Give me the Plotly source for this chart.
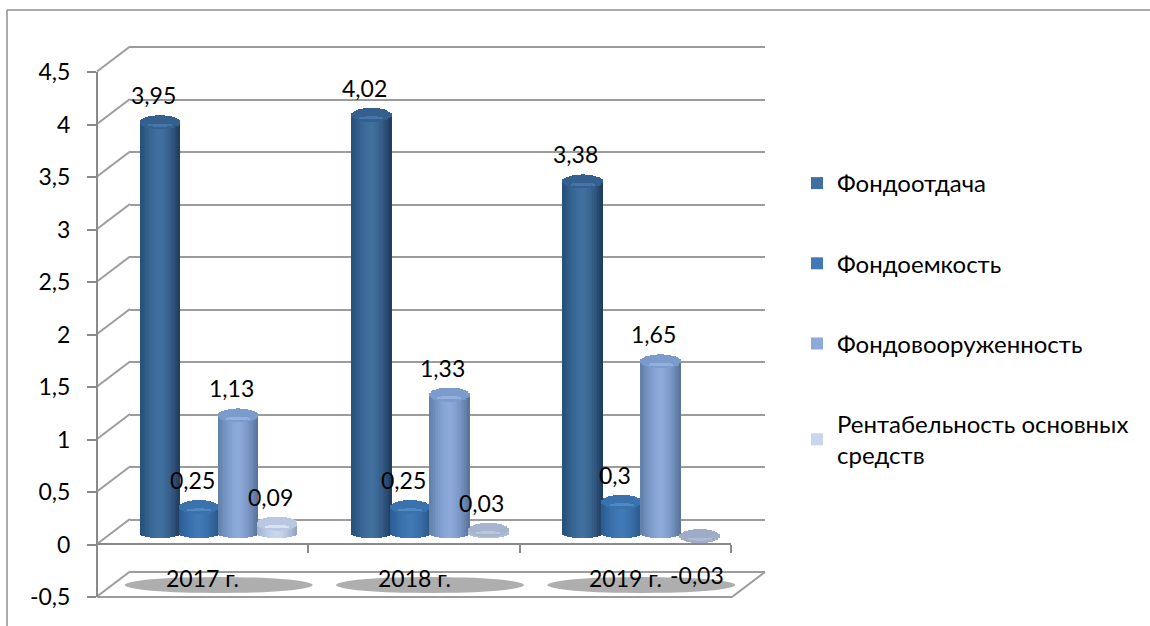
import numpy as np
import plotly.graph_objects as go

categories = ["2017 г.", "2018 г.", "2019 г."]
series_names = ["Фондоотдача", "Фондоемкость", "Фондовооруженность", "Рентабельность основных<br>средств"]
fondootdacha = [3.95, 4.02, 3.38]
fondoemkost = [0.25, 0.25, 0.30]
fondovooruzh = [1.13, 1.33, 1.65]
rentabelnost = [0.09, 0.03, -0.03]
y_ticks = [-0.5, 0, 0.5, 1, 1.5, 2, 2.5, 3, 3.5, 4, 4.5]
y_tick_labels = ["-0,5", "0", "0,5", "1", "1,5", "2", "2,5", "3", "3,5", "4", "4,5"]

W, H = 1150, 626
FONT = "Lato, Carlito, 'Open Sans', sans-serif"
GRID = "#9c9c9c"
AXIS = "#8a8a8a"
px = lambda x: x / W
py = lambda y: 1 - y / H

# colours: edge-left, centre, edge-right, top face, highlight
styles = [
    ("#264f7a", "#41709f", "#1e3a5c", "#34608f", "#4675a8"),
    ("#2b5c94", "#4079b6", "#2a5688", "#3a72ad", "#5088c2"),
    ("#5f7ea8", "#8daadb", "#56719a", "#7b9bcc", "#94b0dc"),
    ("#9fb2d2", "#c9d6ee", "#8fa3c4", "#b9c8e0", "#d8e2f2"),
]
all_values = [fondootdacha, fondoemkost, fondovooruzh, rentabelnost]
# the thin discs of the last series look greyer the closer they sit to zero
disc_grey = [[0, 0, 0], [0, 0, 0], [0, 0, 0], [0, 0.7, 1.0]]

BAR_PX = 39.0
CAT_PX = 634 / 3
W_CAT = BAR_PX / CAT_PX
DIAM = 40.0 / CAT_PX
RY = 7 / 104
N = 24


def hex2rgb(h):
    return np.array([int(h[i:i + 2], 16) for i in (1, 3, 5)], float)


def mix(c1, c2, f):
    c = hex2rgb(c1) * (1 - f) + hex2rgb(c2) * f
    return "rgb(%d,%d,%d)" % tuple(c.round())


fig = go.Figure()
# empty traces that bring the wall and the front-axis subplots to life
fig.add_trace(go.Scatter(x=[None], y=[None], xaxis="x", yaxis="y", showlegend=False, hoverinfo="skip"))
fig.add_trace(go.Scatter(x=[None], y=[None], xaxis="x2", yaxis="y2", showlegend=False, hoverinfo="skip"))

annotations = []
for s, vals in enumerate(all_values):
    left, mid, right, top, hi = styles[s]
    t = (np.arange(N) + 0.5) / N * 2 - 1
    order = np.argsort(np.abs(t))
    t = t[order]
    xs, bases, sizes, cols, widths = [], [], [], [], []
    for i, v in enumerate(vals):
        cx = i + (s - 1.5) * W_CAT
        g = disc_grey[s][i]
        for tt in t:
            dy = 0.75 * RY * np.sqrt(1 - tt * tt)
            xs.append(cx + tt * DIAM / 2)
            bases.append(-dy)
            sizes.append(v + dy)
            widths.append(DIAM / N)
            c = mix(mid, left, (-tt) ** 1.6) if tt < 0 else mix(mid, right, tt ** 1.6)
            cols.append(c if g == 0 else mix("#c9d6ee", "#a6b4cf", g))
    for i, v in enumerate(vals):
        cx = i + (s - 1.5) * W_CAT
        g = disc_grey[s][i]
        for tt in t:
            dy = RY * np.sqrt(1 - tt * tt)
            xs.append(cx + tt * DIAM / 2)
            bases.append(v - dy)
            sizes.append(2 * dy)
            widths.append(DIAM / N)
            cols.append(mix(top, "#9eacc8", g))
        for tt in t[np.abs(t) < 0.62]:
            u = tt / 0.62
            dy = RY * 0.22 * np.sqrt(1 - u * u)
            xs.append(cx + tt * DIAM / 2)
            bases.append(v - RY * 0.42 - dy)
            sizes.append(2 * dy)
            widths.append(DIAM / N)
            cols.append(mix(hi, "#adbad3", g))
        neg = v < 0
        annotations.append(dict(
            x=cx, y=v, xref="x3", yref="y3", yanchor="middle",
            text=f"{v}".replace(".", ","), showarrow=False,
            xshift=-3 if neg else -7, yshift=-39 if neg else 27,
            font=dict(family=FONT, size=23, color="#000000"),
        ))
    fig.add_trace(go.Bar(
        x=xs, y=sizes, base=bases, width=widths, xaxis="x3", yaxis="y3",
        name=series_names[s], legendgroup=f"g{s}",
        marker=dict(color=cols, line=dict(width=0)),
        hoverinfo="skip",
    ))

for i, c in enumerate(categories):
    annotations.append(dict(
        x=i, y=py(578), xref="x2", yref="paper", yanchor="middle", text=c, showarrow=False,
        font=dict(family=FONT, size=23, color="#000000"),
    ))

shapes = [
    dict(type="line", xref="paper", yref="paper", x0=px(7), x1=px(1150), y0=py(10), y1=py(10),
         line=dict(color="#8e8e8e", width=1.5), layer="below"),
    dict(type="line", xref="paper", yref="paper", x0=px(7), x1=px(7), y0=py(10), y1=py(626),
         line=dict(color="#8e8e8e", width=1.5), layer="below"),
    dict(type="line", xref="paper", yref="paper", x0=px(97), x1=px(732), y0=py(597), y1=py(597),
         line=dict(color=GRID, width=2), layer="below"),
    dict(type="line", xref="paper", yref="paper", x0=px(732), x1=px(765), y0=py(597), y1=py(572),
         line=dict(color=GRID, width=2), layer="below"),
]
# side wall and floor diagonals, one per axis tick
for v in y_ticks:
    yf = 544 - 105 * v
    yb = 519 - 105 * v
    shapes.append(dict(type="line", xref="paper", yref="paper", x0=px(97), x1=px(130),
                       y0=py(yf), y1=py(yb), line=dict(color=GRID, width=2), layer="below"))
# floor shadows under each category
for i in range(len(categories)):
    shapes.append(dict(type="circle", xref="x3", yref="paper", layer="below",
                       x0=i - 94 / CAT_PX, x1=i + 94 / CAT_PX,
                       y0=py(585 + 8), y1=py(585 - 8),
                       fillcolor="#aeaeae", line=dict(color="rgba(0,0,0,0)", width=0)))

fig.update_layout(
    template="none",
    width=W, height=H, margin=dict(l=0, r=0, t=0, b=0, autoexpand=False),
    paper_bgcolor="#ffffff", plot_bgcolor="rgba(0,0,0,0)",
    barmode="overlay", bargap=0, hovermode=False,
    annotations=annotations, shapes=shapes,
    font=dict(family=FONT, size=23, color="#000000"),
    showlegend=True,
    legend=dict(x=px(797), y=py(161), xanchor="left", yanchor="top",
                tracegroupgap=46, font=dict(family=FONT, size=24),
                bgcolor="rgba(0,0,0,0)", itemclick=False, itemdoubleclick=False),
    # back wall
    xaxis=dict(domain=[px(130), px(765)], range=[-0.5, 2.5], anchor="y", visible=False, fixedrange=True, automargin=False),
    yaxis=dict(domain=[py(574.1), py(44.9)], range=[-0.52, 4.52], anchor="x", tickvals=y_ticks,
               showticklabels=False, showgrid=True, gridcolor=GRID, gridwidth=2,
               zeroline=False, showline=False, ticks="", fixedrange=True, automargin=False),
    # front axes
    xaxis2=dict(domain=[px(97), px(731)], range=[-0.5, 2.5], anchor="free", position=py(544),
                tickvals=[-0.5, 0.5, 1.5, 2.5], showticklabels=False, ticks="outside", ticklen=8,
                tickcolor=AXIS, tickwidth=2, showline=True, linecolor=AXIS, linewidth=2,
                showgrid=False, zeroline=False, fixedrange=True, automargin=False),
    yaxis2=dict(domain=[py(597), py(72)], range=[-0.5, 4.5], anchor="free", position=px(97),
                tickvals=y_ticks, ticktext=y_tick_labels, ticks="outside", ticklen=9,
                tickcolor=AXIS, tickwidth=2, showline=True, linecolor=AXIS, linewidth=2,
                showgrid=False, zeroline=False, ticklabelstandoff=12, automargin=False,
                tickfont=dict(family=FONT, size=23, color="#000000"), fixedrange=True),
    # cylinders
    xaxis3=dict(domain=[px(113), px(747)], range=[-0.5, 2.5], anchor="y3", visible=False, fixedrange=True, automargin=False),
    yaxis3=dict(domain=[py(585), py(65)], range=[-0.5, 4.5], anchor="x3", visible=False, fixedrange=True, automargin=False),
)

fig.write_html("out.html", post_script="document.body.style.margin='0';",
               config=dict(displayModeBar=False))
